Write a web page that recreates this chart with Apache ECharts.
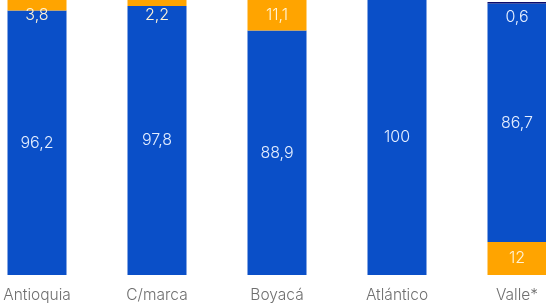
<!DOCTYPE html>
<html><head><meta charset="utf-8">
<script src="https://cdn.jsdelivr.net/npm/echarts@6/dist/echarts.min.js"></script>
<style>html,body{margin:0;padding:0;background:#fff;overflow:hidden;width:546px;height:306px}#c{position:absolute;left:-23px;top:0;width:600px;height:306px}</style>
</head><body><div id="c"></div>
<script>
const categories = ['Antioquia','C/marca','Boyacá','Atlántico','Valle*'];
const orangeBottom = [null, null, null, null, 12];
const blueMain = [96.2, 97.8, 88.9, 100, 86.7];
const orangeTop = [3.8, 2.2, 11.1, null, null];
const navyTop = [null, null, null, null, 0.6];

const fmt = p => String(p.value).replace('.', ',');
const font = 'Inter, "Open Sans", sans-serif';
function mk(name, data, color, labelColor, pos, dist) {
  return {
    name, type: 'bar', stack: 's', data, barWidth: 59,
    itemStyle: { color },
    label: { show: true, position: pos, distance: dist, formatter: fmt, color: labelColor,
             fontSize: 16, fontFamily: font, fontWeight: 300 }
  };
}
const chart = echarts.init(document.getElementById('c'), null, {renderer: 'canvas'});
chart.setOption({
  animation: false,
  grid: { left: 0, right: 0, top: 0, bottom: 31 },
  xAxis: { type: 'category', data: categories, axisLine: {show: false}, axisTick: {show: false},
    axisLabel: { color: '#6f6f6f', fontSize: 15.5, fontFamily: font, fontWeight: 300, margin: 12 } },
  yAxis: { type: 'value', min: 0, max: 100, show: false, splitLine: {show: false} },
  series: [
    mk('ob', orangeBottom, '#ffa400', '#fff4d8', 'inside', 5),
    mk('b', blueMain, '#0a4fc8', '#e4eeff', 'inside', 5),
    mk('ot', orangeTop, '#ffa400', '#fff4d8', 'insideTop', 7),
    mk('n', navyTop, '#0b0b6b', '#e4eeff', 'insideTop', 7)
  ]
});
</script></body></html>
